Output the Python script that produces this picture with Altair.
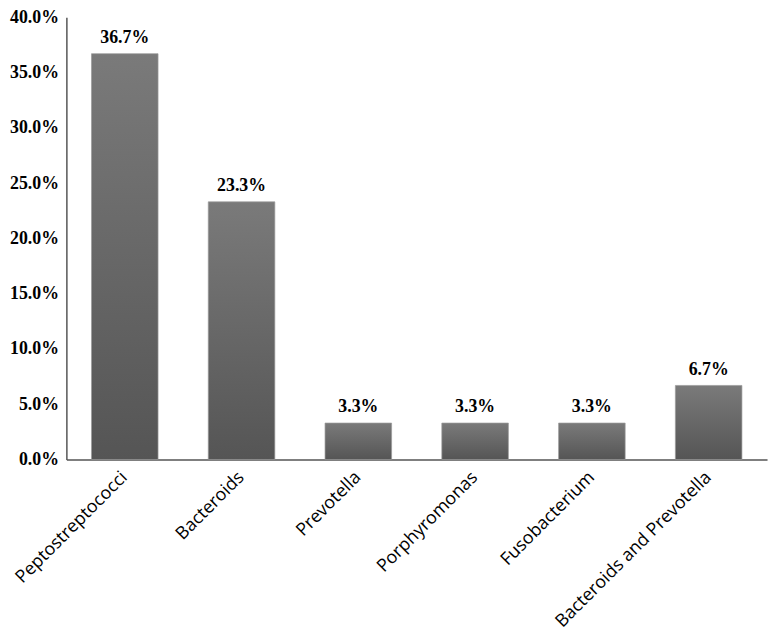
import altair as alt
import pandas as pd

categories = ["Peptostreptococci", "Bacteroids", "Prevotella", "Porphyromonas",
              "Fusobacterium", "Bacteroids and Prevotella"]
values = [0.367, 0.233, 0.033, 0.033, 0.033, 0.067]
y_ticks = [0.0, 0.05, 0.10, 0.15, 0.20, 0.25, 0.30, 0.35, 0.40]

df = pd.DataFrame({"category": categories, "value": values})

x_enc = alt.X(
    "category:N", sort=categories, title=None,
    scale=alt.Scale(paddingInner=0.43, paddingOuter=0.215),
    axis=alt.Axis(labelAngle=-45, labelAlign="right", labelBaseline="middle",
                  labelFont="Open Sans", labelFontSize=18, labelColor="#000000",
                  labelPadding=15, ticks=False, domainColor="#555555",
                  domainWidth=1.5, labelLimit=400),
)
y_enc = alt.Y(
    "value:Q", title=None,
    scale=alt.Scale(domain=[0, 0.40], nice=False),
    axis=alt.Axis(values=y_ticks, format=".1%", grid=False, ticks=False,
                  labelFont="Liberation Serif", labelFontWeight="bold",
                  labelFontSize=18, labelColor="#000000", labelPadding=8,
                  domainColor="#555555", domainWidth=1.5),
)

bars = alt.Chart(df).mark_bar(
    color=alt.Gradient(
        gradient="linear",
        stops=[alt.GradientStop(color="#7a7a7a", offset=0),
               alt.GradientStop(color="#555555", offset=1)],
        x1=0, x2=0, y1=0, y2=1,
    ),
    stroke="#9a9a9a", strokeWidth=1, strokeOpacity=0.7,
).encode(x=x_enc, y=y_enc)

labels = alt.Chart(df).mark_text(
    font="Liberation Serif", fontWeight="bold", fontSize=18, color="#000000",
    baseline="alphabetic", dy=-11,
).encode(
    x=alt.X("category:N", sort=categories),
    y=alt.Y("value:Q"),
    text=alt.Text("value:Q", format=".1%"),
)

chart = (bars + labels).properties(
    width=708, height=447,
    autosize=alt.AutoSizeParams(type="none"),
    padding={"left": 59, "top": 6, "right": 4, "bottom": 172},
).configure_view(stroke=None)

chart.save("out.html", embed_options={"renderer": "svg", "actions": False})
